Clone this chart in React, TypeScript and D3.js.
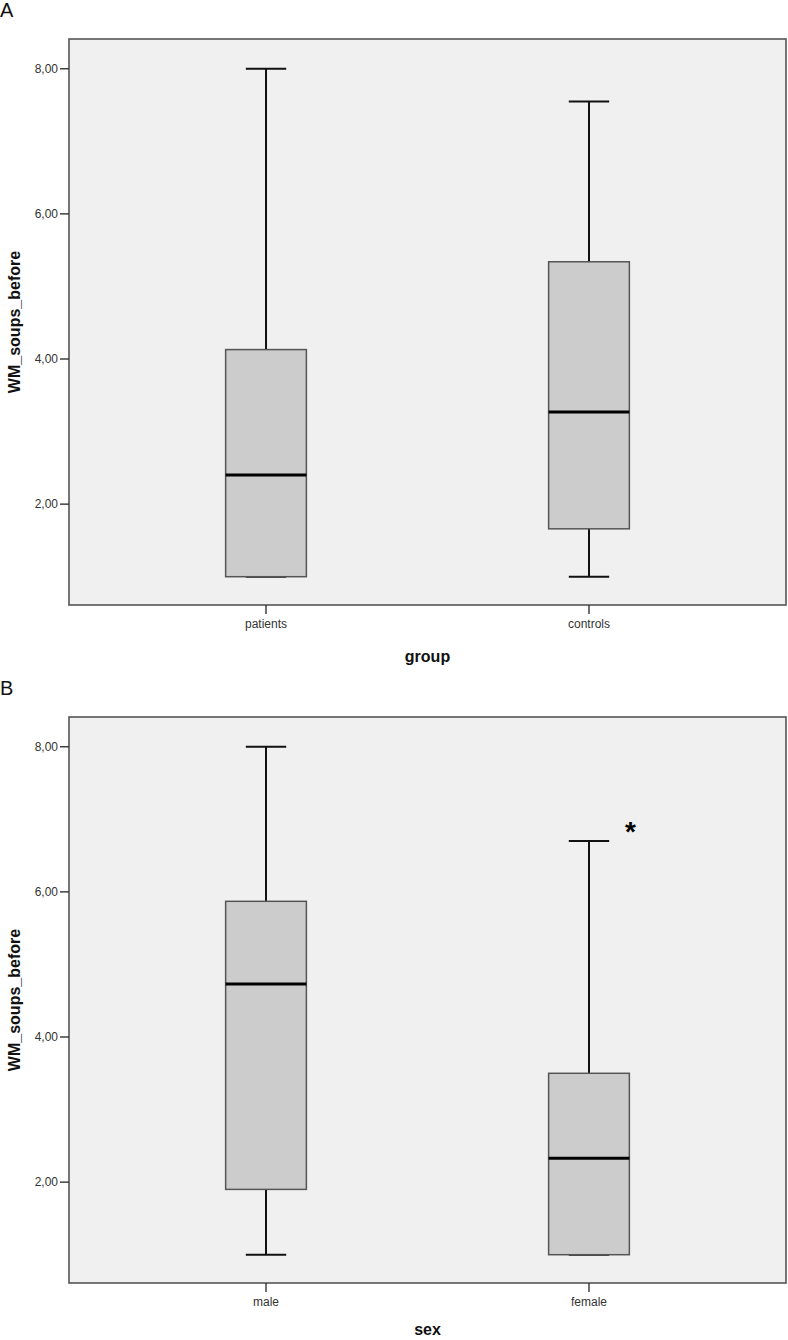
import { useEffect } from 'react'
import * as d3 from 'd3'

// panel A: WM_soups_before by group
const groupCats = ['patients', 'controls']
const groupMin = [1.0, 1.0]
const groupQ1 = [1.0, 1.66]
const groupMedian = [2.4, 3.27]
const groupQ3 = [4.13, 5.34]
const groupMax = [8.0, 7.55]
const groupOutliers: { cat: string; value: number }[] = []

// panel B: WM_soups_before by sex
const sexCats = ['male', 'female']
const sexMin = [1.0, 1.0]
const sexQ1 = [1.9, 1.0]
const sexMedian = [4.73, 2.33]
const sexQ3 = [5.87, 3.5]
const sexMax = [8.0, 6.7]
const sexOutliers = [{ cat: 'female', value: 6.98 }]

const yTicks = [2, 4, 6, 8]
const yDomain: [number, number] = [0.61, 8.41]

const W = 788
const H = 1340
const frame = { left: 69, right: 786, top: 39, height: 566 }
const panelOffset = 678
const fmt = (v: number) => d3.format('.2f')(v).replace('.', ',')

interface PanelProps {
  y0: number
  letter: string
  cats: string[]
  mins: number[]
  q1s: number[]
  medians: number[]
  q3s: number[]
  maxs: number[]
  outliers: { cat: string; value: number }[]
  xTitle: string
  xTitleGap: number
}

function Panel({ y0, letter, cats, mins, q1s, medians, q3s, maxs, outliers, xTitle, xTitleGap }: PanelProps) {
  const top = y0 + frame.top
  const bottom = top + frame.height
  const x = d3.scalePoint<string>().domain(cats).range([frame.left, frame.right]).padding(0.61)
  const y = d3.scaleLinear().domain(yDomain).range([bottom, top])
  const boxW = x.step() * 0.25
  const capW = boxW / 2
  const midY = (top + bottom) / 2
  const midX = (frame.left + frame.right) / 2

  return (
    <g>
      <text x={0} y={y0 + 17} fontSize={20} fontFamily="Liberation Sans, Arial, sans-serif" fill="#111">
        {letter}
      </text>
      <rect
        x={frame.left}
        y={top}
        width={frame.right - frame.left}
        height={frame.height}
        fill="#f0f0f0"
        stroke="#555"
        strokeWidth={1.6}
      />
      {yTicks.map((t) => (
        <g key={t}>
          <line x1={frame.left - 9} x2={frame.left} y1={y(t)} y2={y(t)} stroke="#333" strokeWidth={1.4} />
          <text
            x={frame.left - 11}
            y={y(t)}
            dy="0.35em"
            textAnchor="end"
            fontSize={12}
            fontFamily="Liberation Sans, Arial, sans-serif"
            fill="#333"
          >
            {fmt(t)}
          </text>
        </g>
      ))}
      {cats.map((c) => (
        <g key={c}>
          <line x1={x(c)!} x2={x(c)!} y1={bottom} y2={bottom + 9} stroke="#333" strokeWidth={1.4} />
          <text
            x={x(c)!}
            y={bottom + 23}
            textAnchor="middle"
            fontSize={12}
            fontFamily="Liberation Sans, Arial, sans-serif"
            fill="#333"
          >
            {c}
          </text>
        </g>
      ))}
      {cats.map((c, i) => {
        const cx = x(c)!
        return (
          <g key={'box' + c}>
            <line x1={cx} x2={cx} y1={y(q3s[i])} y2={y(maxs[i])} stroke="#111" strokeWidth={2} />
            <line x1={cx} x2={cx} y1={y(q1s[i])} y2={y(mins[i])} stroke="#111" strokeWidth={2} />
            <line x1={cx - capW / 2} x2={cx + capW / 2} y1={y(maxs[i])} y2={y(maxs[i])} stroke="#111" strokeWidth={2} />
            <line x1={cx - capW / 2} x2={cx + capW / 2} y1={y(mins[i])} y2={y(mins[i])} stroke="#111" strokeWidth={2} />
            <rect
              x={cx - boxW / 2}
              y={y(q3s[i])}
              width={boxW}
              height={y(q1s[i]) - y(q3s[i])}
              fill="#cccccc"
              stroke="#555"
              strokeWidth={1.5}
            />
            <line
              x1={cx - boxW / 2}
              x2={cx + boxW / 2}
              y1={y(medians[i])}
              y2={y(medians[i])}
              stroke="#000"
              strokeWidth={3}
            />
          </g>
        )
      })}
      {outliers.map((o, i) => (
        <text
          key={'o' + i}
          x={x(o.cat)! + boxW / 2 + 1}
          y={y(o.value)}
          dy="0.72em"
          textAnchor="middle"
          fontSize={28}
          fontWeight="bold"
          fontFamily="Liberation Sans, Arial, sans-serif"
          fill="#000"
        >
          *
        </text>
      ))}
      <text
        transform={`translate(14,${midY}) rotate(-90)`}
        textAnchor="middle"
        dy="0.35em"
        fontSize={16}
        fontWeight="bold"
        fontFamily="Liberation Sans, Arial, sans-serif"
        fill="#111"
      >
        WM_soups_before
      </text>
      <text
        x={midX}
        y={bottom + xTitleGap}
        textAnchor="middle"
        fontSize={16}
        fontWeight="bold"
        fontFamily="Liberation Sans, Arial, sans-serif"
        fill="#111"
      >
        {xTitle}
      </text>
    </g>
  )
}

export default function App() {
  useEffect(() => {
    document.body.style.margin = '0'
  }, [])

  return (
    <svg width={W} height={H} style={{ display: 'block', background: '#fff' }}>
      <rect width={W} height={H} fill="#fff" />
      <Panel
        y0={0}
        letter="A"
        cats={groupCats}
        mins={groupMin}
        q1s={groupQ1}
        medians={groupMedian}
        q3s={groupQ3}
        maxs={groupMax}
        outliers={groupOutliers}
        xTitle="group"
        xTitleGap={57}
      />
      <Panel
        y0={panelOffset}
        letter="B"
        cats={sexCats}
        mins={sexMin}
        q1s={sexQ1}
        medians={sexMedian}
        q3s={sexQ3}
        maxs={sexMax}
        outliers={sexOutliers}
        xTitle="sex"
        xTitleGap={52}
      />
    </svg>
  )
}
